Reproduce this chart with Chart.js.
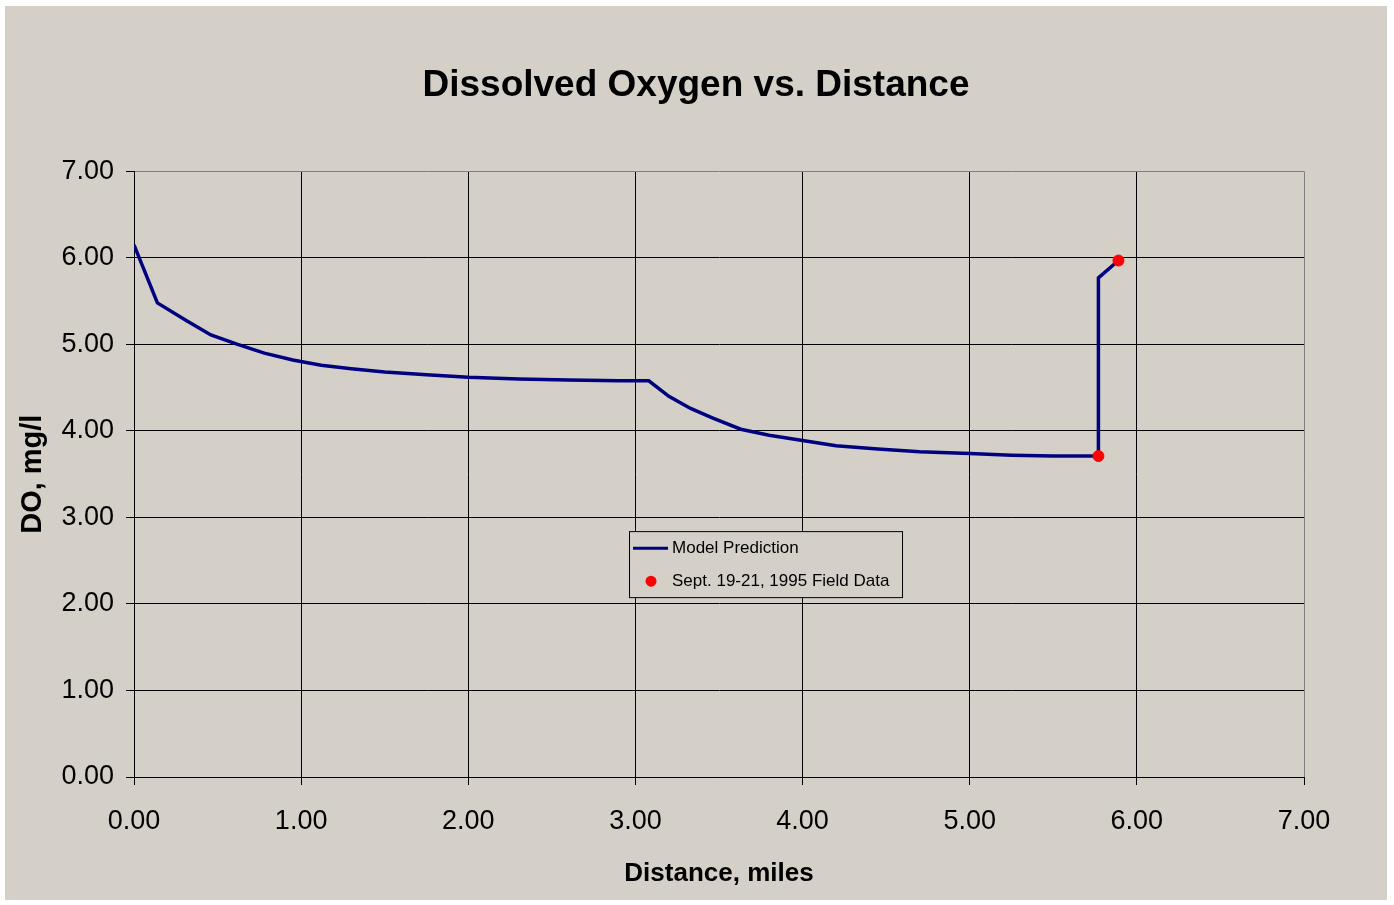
<!DOCTYPE html>
<html>
<head>
<meta charset="utf-8">
<script src="https://cdn.jsdelivr.net/npm/chart.js@4.4.1/dist/chart.umd.min.js"></script>
<style>
  html, body { margin: 0; padding: 0; background: #ffffff; }
  #wrap { position: absolute; left: 5px; top: 6px; width: 1382px; height: 894px; background: #d4d0c8; }
</style>
</head>
<body>
<div id="wrap"><canvas id="doChart"></canvas></div>
<script>
// Model prediction curve (distance in miles, DO in mg/l)
const modelDistance = [0, 0.14, 0.31, 0.46, 0.62, 0.78, 0.95, 1.12, 1.30, 1.50, 1.75, 2.00, 2.30, 2.60, 2.90, 3.08,
  3.20, 3.33, 3.46, 3.63, 3.80, 4.00, 4.20, 4.45, 4.70, 5.00, 5.25, 5.50, 5.77, 5.77, 5.89];
const modelDO = [6.15, 5.48, 5.28, 5.11, 5.00, 4.90, 4.82, 4.76, 4.72, 4.68, 4.65, 4.62, 4.60, 4.59, 4.58, 4.58,
  4.40, 4.26, 4.15, 4.02, 3.95, 3.89, 3.83, 3.79, 3.76, 3.74, 3.72, 3.71, 3.71, 5.77, 5.97];

// Field measurements
const fieldDistance = [5.77, 5.89];
const fieldDO = [3.71, 5.97];

const axisMin = 0;
const axisMax = 7;
const seriesLabels = ['Model Prediction', 'Sept. 19-21, 1995 Field Data'];

const fontFamily = "'Liberation Sans', Arial, sans-serif";

// legend box drawn inside the plot area, like the original
const insideLegend = {
  id: 'insideLegend',
  afterDraw(chart) {
    const ctx = chart.ctx;
    const area = chart.chartArea;
    const x = area.left + (area.right - area.left) * 0.4231;
    const y = area.top + (area.bottom - area.top) * 0.594;
    const w = 273, h = 66;
    ctx.save();
    ctx.fillStyle = '#d4d0c8';
    ctx.fillRect(x, y, w, h);
    ctx.strokeStyle = '#000000';
    ctx.lineWidth = 1;
    ctx.strokeRect(x + 0.5, y + 0.5, w, h);

    ctx.strokeStyle = '#000080';
    ctx.lineWidth = 3;
    ctx.beginPath();
    ctx.moveTo(x + 4, y + 17);
    ctx.lineTo(x + 39, y + 17);
    ctx.stroke();

    ctx.fillStyle = '#ff0000';
    ctx.beginPath();
    ctx.arc(x + 22, y + 50, 5.5, 0, Math.PI * 2);
    ctx.fill();

    ctx.fillStyle = '#000000';
    ctx.font = '17px ' + fontFamily;
    ctx.textBaseline = 'middle';
    ctx.fillText(seriesLabels[0], x + 43, y + 17);
    ctx.fillText(seriesLabels[1], x + 43, y + 50);
    ctx.restore();
  }
};

const gridColor = function(context) {
  return context.tick && context.tick.value === axisMax ? '#808080' : '#000000';
};

const ctx = document.getElementById('doChart').getContext('2d');
new Chart(ctx, {
  type: 'scatter',
  data: {
    datasets: [{
      label: seriesLabels[0],
      data: modelDistance.map((d, i) => ({ x: d, y: modelDO[i] })),
      showLine: true,
      borderColor: '#000080',
      borderWidth: 3.5,
      pointRadius: 0,
      tension: 0,
      order: 2
    }, {
      label: seriesLabels[1],
      data: fieldDistance.map((d, i) => ({ x: d, y: fieldDO[i] })),
      showLine: false,
      backgroundColor: '#ff0000',
      borderColor: '#ff0000',
      pointRadius: 5.5,
      order: 1
    }]
  },
  plugins: [insideLegend],
  options: {
    responsive: true,
    maintainAspectRatio: false,
    animation: false,
    layout: { padding: 0 },
    plugins: {
      legend: { display: false },
      tooltip: { enabled: false },
      title: {
        display: true,
        text: 'Dissolved Oxygen vs. Distance',
        color: '#000000',
        font: { family: fontFamily, size: 37, weight: 'bold' },
        padding: { top: 58, bottom: 63 }
      }
    },
    scales: {
      x: {
        type: 'linear',
        min: axisMin,
        max: axisMax,
        afterFit: function(scale) { scale.height = 123; },
        ticks: {
          stepSize: 1,
          color: '#000000',
          padding: 20,
          font: { family: fontFamily, size: 27 },
          callback: v => v.toFixed(2)
        },
        grid: { color: gridColor, tickColor: '#000000', tickLength: 8, lineWidth: 1 },
        border: { color: '#000000', width: 1 },
        title: {
          display: true,
          text: 'Distance, miles',
          color: '#000000',
          font: { family: fontFamily, size: 26, weight: 'bold' },
          padding: { top: 0, bottom: 11 }
        }
      },
      y: {
        min: axisMin,
        max: axisMax,
        afterFit: function(scale) { scale.width = 129; },
        ticks: {
          stepSize: 1,
          color: '#000000',
          padding: 12,
          font: { family: fontFamily, size: 27 },
          callback: v => v.toFixed(2)
        },
        grid: { color: gridColor, tickColor: '#000000', tickLength: 8, lineWidth: 1 },
        border: { color: '#000000', width: 1 },
        title: {
          display: true,
          text: 'DO, mg/l',
          color: '#000000',
          font: { family: fontFamily, size: 29, weight: 'bold' },
          padding: { top: 11, bottom: 0 }
        }
      },
      // empty right-hand strip so the title stays centred on the whole image
      yRight: {
        position: 'right',
        min: axisMin,
        max: axisMax,
        afterFit: function(scale) { scale.width = 83; },
        ticks: { display: false },
        grid: { display: false },
        border: { display: false }
      }
    }
  }
});
</script>
</body>
</html>
